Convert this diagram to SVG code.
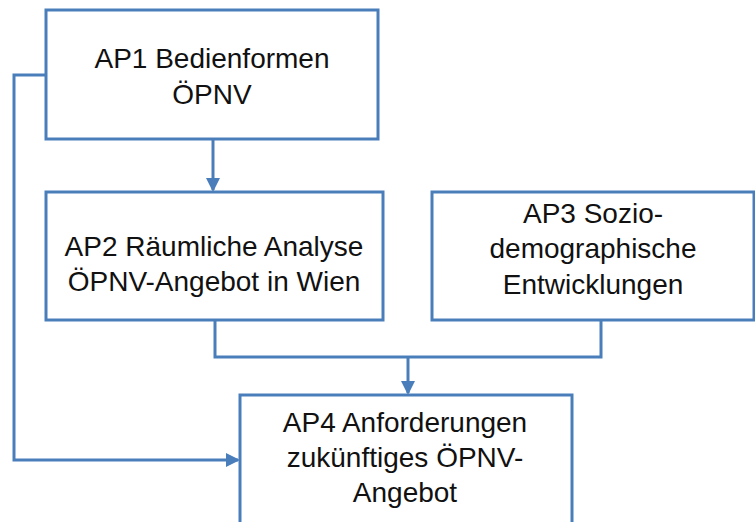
<svg xmlns="http://www.w3.org/2000/svg" width="755" height="522" viewBox="0 0 755 522">
<defs>
<style>
.box{fill:#fff;stroke:#4a7ebb;stroke-width:3}
.t{font-family:"Liberation Sans",Arial,sans-serif;font-size:28px;fill:#111;text-anchor:middle}
.c{fill:none;stroke:#4a7ebb;stroke-width:3}
</style>
<marker id="ah" markerWidth="14" markerHeight="14" refX="12" refY="7" orient="auto" markerUnits="userSpaceOnUse">
<path d="M0,0 L14,7 L0,14 Z" fill="#4a7ebb"/>
</marker>
</defs>
<rect width="755" height="522" fill="#fff"/>
<g id="connectors">
<path class="c" d="M213,139 V190" marker-end="url(#ah)"/>
<path class="c" d="M215,320 V357 H601 V320"/>
<path class="c" d="M408,357 V393" marker-end="url(#ah)"/>
<path class="c" d="M46,75 H14 V460 H238" marker-end="url(#ah)"/>
</g>
<g id="ap1">
<rect class="box" x="46" y="10" width="332" height="129"/>
<text class="t" x="212" y="68">AP1 Bedienformen</text>
<text class="t" x="212" y="104">ÖPNV</text>
</g>
<g id="ap2">
<rect class="box" x="46" y="192" width="337" height="128"/>
<text class="t" x="214" y="256">AP2 Räumliche Analyse</text>
<text class="t" x="214" y="291">ÖPNV-Angebot in Wien</text>
</g>
<g id="ap3">
<rect class="box" x="432" y="192" width="322" height="128"/>
<text class="t" x="593" y="223">AP3 Sozio-</text>
<text class="t" x="593" y="258">demographische</text>
<text class="t" x="593" y="294">Entwicklungen</text>
</g>
<g id="ap4">
<rect class="box" x="240" y="395" width="332" height="140"/>
<text class="t" x="405" y="432">AP4 Anforderungen</text>
<text class="t" x="405" y="467">zukünftiges ÖPNV-</text>
<text class="t" x="405" y="502">Angebot</text>
</g>
</svg>
